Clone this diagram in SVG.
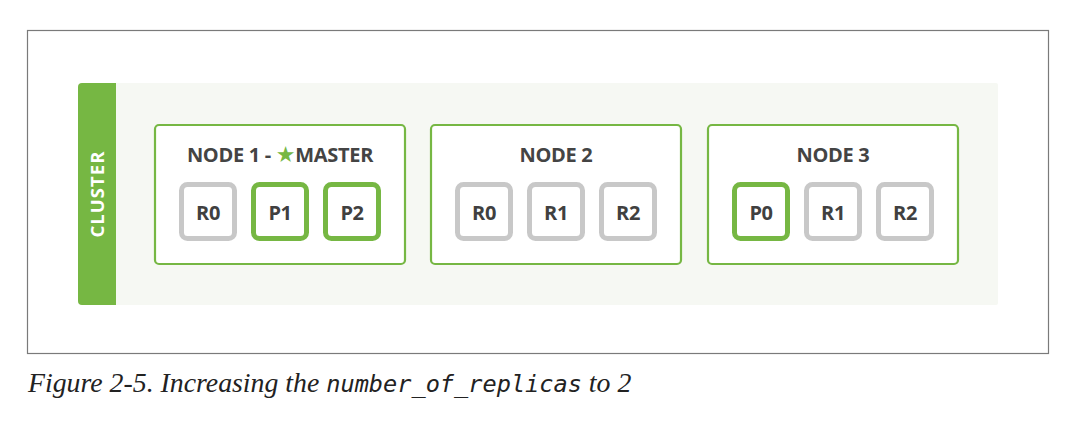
<svg xmlns="http://www.w3.org/2000/svg" width="1080" height="422" viewBox="0 0 1080 422">
<defs>
<style>
.frame{fill:#ffffff;stroke:#7a7a7a;stroke-width:1.2}
.node{fill:#ffffff;stroke:#76b743;stroke-width:2.2}
.rep{fill:#ffffff;stroke:#c8c8c8;stroke-width:5}
.pri{fill:#ffffff;stroke:#76b743;stroke-width:5}
.title{font-family:"Open Sans","Liberation Sans",sans-serif;font-weight:700;font-size:20px;fill:#444444;text-anchor:middle;letter-spacing:-0.3px}
.lbl{font-family:"Open Sans","Liberation Sans",sans-serif;font-weight:700;font-size:20px;fill:#404040;text-anchor:middle;letter-spacing:-0.4px}
.star{fill:#76b743;font-family:"DejaVu Sans",sans-serif;font-size:22px}
.cap{font-family:"Liberation Serif",serif;font-style:italic;font-size:27.8px;fill:#222222}
.mono{font-family:"DejaVu Sans Mono","Liberation Mono",monospace;font-style:italic;font-size:23.6px}
</style>
</defs>
<rect class="frame" x="27.5" y="30.5" width="1021" height="323"/>
<g id="cluster">
<rect x="114" y="83" width="884" height="222" rx="2" fill="#f6f8f3"/>
<rect x="78" y="83" width="38" height="222" rx="4" fill="#76b743"/>
<rect x="100" y="83" width="16" height="222" fill="#76b743"/>
<text x="0" y="0" transform="translate(103.5,194.5) rotate(-90)" text-anchor="middle" font-family="'Open Sans','Liberation Sans',sans-serif" font-weight="700" font-size="18.5px" fill="#ffffff" textLength="86" lengthAdjust="spacing">CLUSTER</text>
</g>
<g id="node1">
<rect class="node" x="155" y="125" width="250" height="139" rx="4"/>
<text class="title" x="280" y="162">NODE 1 - <tspan class="star">★</tspan>MASTER</text>
<rect class="rep" x="181.5" y="184.5" width="53" height="54" rx="6"/>
<text class="lbl" x="208" y="219.5">R0</text>
<rect class="pri" x="253.5" y="184.5" width="53" height="54" rx="6"/>
<text class="lbl" x="280" y="219.5">P1</text>
<rect class="pri" x="325.5" y="184.5" width="53" height="54" rx="6"/>
<text class="lbl" x="352" y="219.5">P2</text>
</g>
<g id="node2">
<rect class="node" x="431" y="125" width="250" height="139" rx="4"/>
<text class="title" x="556" y="162">NODE 2</text>
<rect class="rep" x="457.5" y="184.5" width="53" height="54" rx="6"/>
<text class="lbl" x="484" y="219.5">R0</text>
<rect class="rep" x="529.5" y="184.5" width="53" height="54" rx="6"/>
<text class="lbl" x="556" y="219.5">R1</text>
<rect class="rep" x="601.5" y="184.5" width="53" height="54" rx="6"/>
<text class="lbl" x="628" y="219.5">R2</text>
</g>
<g id="node3">
<rect class="node" x="708" y="125" width="250" height="139" rx="4"/>
<text class="title" x="833" y="162">NODE 3</text>
<rect class="pri" x="734.5" y="184.5" width="53" height="54" rx="6"/>
<text class="lbl" x="761" y="219.5">P0</text>
<rect class="rep" x="806.5" y="184.5" width="53" height="54" rx="6"/>
<text class="lbl" x="833" y="219.5">R1</text>
<rect class="rep" x="878.5" y="184.5" width="53" height="54" rx="6"/>
<text class="lbl" x="905" y="219.5">R2</text>
</g>
<g id="connectors"/>
<text class="cap" x="28" y="392">Figure 2-5. Increasing the <tspan class="mono">number_of_replicas</tspan> to 2</text>
</svg>
